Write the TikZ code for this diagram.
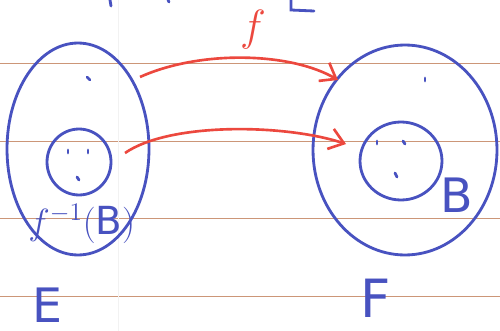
\documentclass[tikz,border=0pt]{standalone}
\usepackage{fontspec}
\setsansfont{DejaVu Sans}
\usetikzlibrary{shapes.geometric,arrows.meta}
\definecolor{pen}{RGB}{72,82,192}
\definecolor{redpen}{RGB}{236,72,62}
\definecolor{ruling}{RGB}{204,150,120}
\begin{document}
\begin{tikzpicture}[x=0.02cm,y=-0.02cm,
  set/.style={draw=pen,line width=1.6pt,ellipse,inner sep=0pt},
  mapto/.style={redpen,line width=1.5pt,-{Straight Barb[length=8pt,width=12pt]}},
  letter/.style={pen,font=\sffamily\fontsize{27}{30}\selectfont,inner sep=0pt},
  elt/.style={pen,line width=1.6pt,line cap=round}]
\useasboundingbox (0,0) rectangle (500,331);
\fill[white] (0,0) rectangle (500,331);
% ruled paper
\foreach \y in {63,141,218,296}
  \draw[ruling,line width=0.4pt] (0,\y) -- (500,\y);
\draw[black!5,line width=0.5pt] (118,0) -- (118,331);
% bits of writing above
\draw[elt] (110,0) -- (111,6);
\draw[elt] (168,0) -- (169,2);
\draw[elt] (291,0) -- (291,10) -- (314,11);
% the two sets
\node[set,minimum width=2.84cm,minimum height=4.24cm] (E) at (78,149) {};
\node[set,minimum width=3.68cm,minimum height=4.2cm] (F) at (405,150) {};
\node[set,minimum width=1.28cm,minimum height=1.32cm] (preB) at (79,162) {};
\node[set,minimum width=1.64cm,minimum height=1.56cm] (B) at (401,161) {};
% elements
\draw[elt] (87,77) -- (90,80);
\draw[elt] (68,150) -- (68,153);
\draw[elt] (88,150) -- (88,153);
\draw[elt] (77,177) -- (79,180);
\draw[elt] (425,78) -- (425,81);
\draw[elt] (377,141) -- (377,144);
\draw[elt] (403,141) -- (405,144);
\draw[elt] (395,173) -- (397,177);
% labels
\node[letter,anchor=base] (lE) at (47,322) {E};
\node[letter,anchor=base,font=\sffamily\fontsize{30}{32}\selectfont] (lF) at (376,317) {F};
\node[letter,anchor=base] (lB) at (457,212) {B};
\node[pen,anchor=base west,inner sep=0pt,font=\fontsize{22}{24}\selectfont] (lpre) at (28,234) {$f^{-1}(\mathsf{B})$};
\node[redpen,inner sep=0pt,font=\fontsize{30}{32}\selectfont] (lf) at (253,30) {$f$};
% the map
\coordinate (a1) at (140,77);
\coordinate (b1) at (338,80);
\coordinate (a2) at (125,153);
\coordinate (b2) at (346,144);
\draw[mapto] (a1) .. controls (200,50) and (290,52) .. (b1);
\draw[mapto] (a2) .. controls (170,122) and (285,124) .. (b2);
\end{tikzpicture}
\end{document}
